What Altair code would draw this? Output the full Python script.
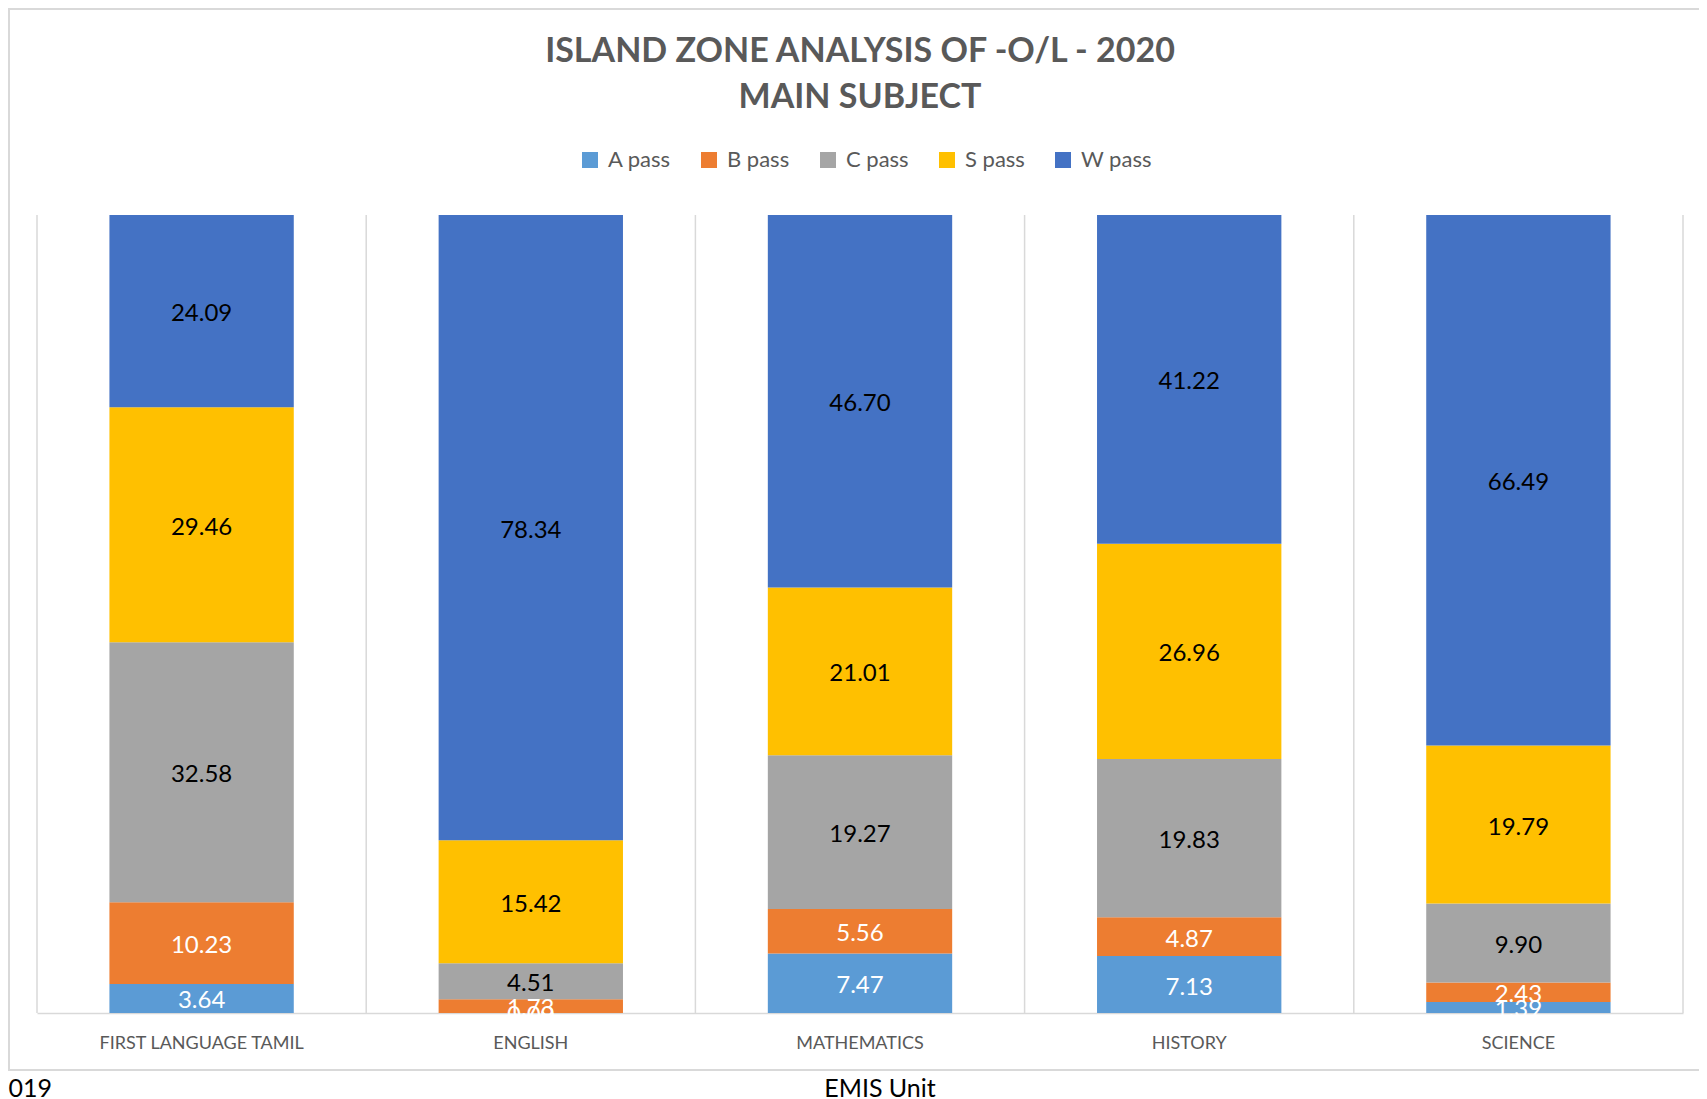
import altair as alt
import pandas as pd

subjects = ["FIRST LANGUAGE TAMIL", "ENGLISH", "MATHEMATICS", "HISTORY", "SCIENCE"]
grades = ["A pass", "B pass", "C pass", "S pass", "W pass"]
a_pass = [3.64, 0.00, 7.47, 7.13, 1.39]
b_pass = [10.23, 1.73, 5.56, 4.87, 2.43]
c_pass = [32.58, 4.51, 19.27, 19.83, 9.90]
s_pass = [29.46, 15.42, 21.01, 26.96, 19.79]
w_pass = [24.09, 78.34, 46.70, 41.22, 66.49]
grade_colors = ["#5B9BD5", "#ED7D31", "#A5A5A5", "#FFC000", "#4472C4"]
title_lines = ["ISLAND ZONE ANALYSIS OF -O/L - 2020", "MAIN SUBJECT"]
footer_left = "2019"
footer_center = "EMIS Unit"

series = [a_pass, b_pass, c_pass, s_pass, w_pass]
rows = []
for gi, (g, vals) in enumerate(zip(grades, series)):
    for s, v in zip(subjects, vals):
        rows.append({"Subject": s, "Grade": g, "Value": v, "order": gi})
df = pd.DataFrame(rows)
subj_df = pd.DataFrame({"Subject": subjects})

W, H = 1646, 798
FONT = "Lato"
GRID = "#D9D9D9"

xscale = alt.Scale(type="band", paddingInner=0.44, paddingOuter=0.22)
yscale = alt.Scale(domain=[0, 100], nice=False, zero=True)

bars = alt.Chart(df).mark_bar().encode(
    x=alt.X("Subject:N", sort=subjects, scale=xscale,
            axis=alt.Axis(title=None, labelAngle=0, ticks=False, grid=False,
                          domainColor=GRID, domainWidth=1.5, labelLimit=0,
                          labelFont=FONT, labelFontSize=18, labelColor="#595959",
                          labelPadding=21)),
    y=alt.Y("Value:Q", stack="zero", scale=yscale, axis=None),
    color=alt.Color("Grade:N", scale=alt.Scale(domain=grades, range=grade_colors),
                    legend=alt.Legend(title=None, orient="none", direction="horizontal",
                                      legendX=542, legendY=-66, padding=0,
                                      symbolType="square", symbolSize=256,
                                      symbolStrokeWidth=0, labelFont=FONT,
                                      labelFontSize=22, labelColor="#595959",
                                      labelOffset=7, columnPadding=27)),
    order=alt.Order("order:Q", sort="ascending"),
)

labels = alt.Chart(df).transform_stack(
    stack="Value", groupby=["Subject"], as_=["y0", "y1"],
    sort=[alt.SortField("order", order="ascending")]
).transform_calculate(
    mid="(datum.y0 + datum.y1) / 2"
).mark_text(font=FONT, fontSize=24, baseline="middle", align="center", dy=3).encode(
    x=alt.X("Subject:N", sort=subjects, scale=xscale),
    y=alt.Y("mid:Q", scale=yscale),
    text=alt.Text("Value:Q", format=".2f"),
    color=alt.condition(alt.FieldOneOfPredicate(field="Grade", oneOf=["A pass", "B pass"]),
                        alt.value("white"), alt.value("black")),
)

main = alt.layer(bars, labels)

grid = alt.Chart(subj_df).mark_rule(color=GRID, strokeWidth=1.5).encode(
    x=alt.X("Subject:N", sort=subjects, bandPosition=0,
            scale=alt.Scale(type="band", paddingInner=0, paddingOuter=0), axis=None)
)
grid_end = alt.Chart(subj_df.head(1)).mark_rule(color=GRID, strokeWidth=1.5).encode(
    x=alt.value(W), y=alt.value(0), y2=alt.value(H)
)

border = alt.Chart(subj_df.head(1)).mark_rect(fillOpacity=0, stroke=GRID, strokeWidth=2).encode(
    x=alt.value(-28), x2=alt.value(1700), y=alt.value(-206), y2=alt.value(855)
)

foot_l = alt.Chart(pd.DataFrame({"t": [footer_left]})).mark_text(
    font=FONT, fontSize=25, align="right", baseline="alphabetic", color="black"
).encode(x=alt.value(15), y=alt.value(882), text="t:N")
foot_c = alt.Chart(pd.DataFrame({"t": [footer_center]})).mark_text(
    font=FONT, fontSize=25, align="center", baseline="alphabetic", color="black"
).encode(x=alt.value(843), y=alt.value(882), text="t:N")

chart = alt.layer(border, grid, grid_end, main, foot_l, foot_c).resolve_scale(
    x="independent"
).properties(
    width=W, height=H,
    padding={"left": 29, "top": 207, "right": 16, "bottom": 86},
    autosize=alt.AutoSizeParams(type="none"),
    title=alt.TitleParams(text=title_lines, anchor="middle", frame="group",
                          font=FONT, fontSize=34, fontWeight="bold",
                          color="#595959", lineHeight=46, offset=0, dy=107),
).configure_view(stroke=None)

chart.save("out.html", embed_options={"renderer": "svg", "actions": False})
